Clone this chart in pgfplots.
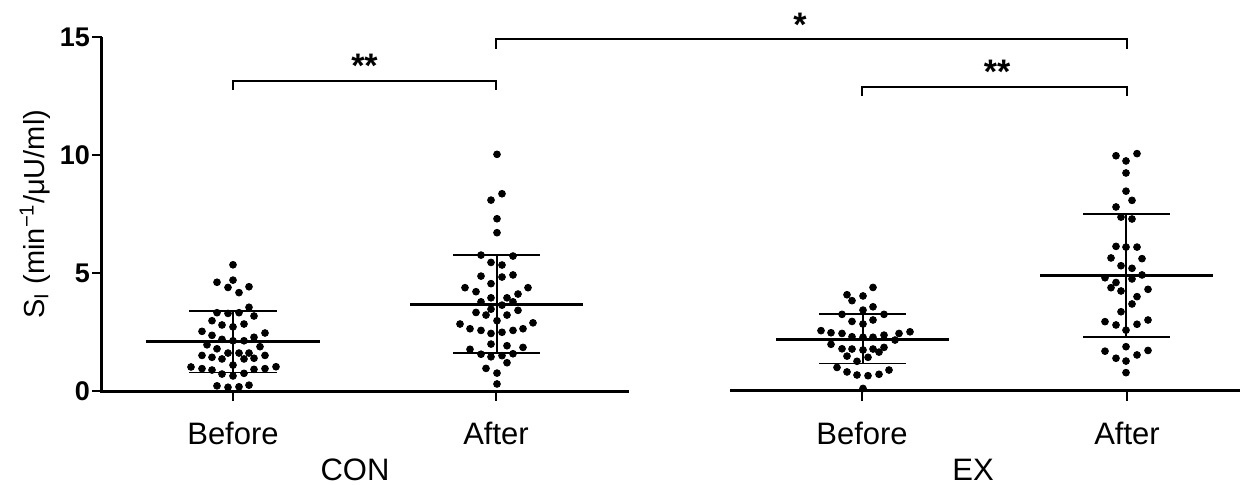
\documentclass[border=0pt]{standalone}
\usepackage{pgfplots}
\usepackage{pgfplotstable}
\pgfplotsset{compat=1.18}
\usepackage{fontspec}
\setmainfont{Liberation Sans}

% x positions are in "image pixels / 100"
\pgfplotstableread{
x y
2.33 5.35
2.17 4.61
2.33 4.70
2.28 4.39
2.49 4.42
2.39 4.17
2.49 3.55
2.17 3.32
2.28 3.29
2.39 3.32
2.54 3.18
2.12 2.98
2.22 2.80
2.33 2.72
2.44 2.84
2.02 2.53
2.12 2.36
2.65 2.46
2.22 2.19
2.33 2.13
2.44 2.13
2.54 2.28
2.07 1.96
2.17 1.79
2.28 1.61
2.39 1.61
2.49 1.61
2.60 1.88
2.02 1.51
2.12 1.43
2.22 1.36
2.44 1.36
2.54 1.39
2.65 1.51
2.33 1.10
1.91 1.02
2.02 0.95
2.12 0.89
2.54 0.92
2.65 0.95
2.76 1.03
2.22 0.72
2.33 0.64
2.44 0.75
2.17 0.22
2.28 0.16
2.39 0.18
2.49 0.25
}\conbefore

\pgfplotstableread{
x y
4.97 10.03
5.02 8.36
4.91 8.09
4.97 7.30
4.97 6.71
4.81 5.76
5.13 5.72
4.91 5.45
5.02 5.34
4.81 4.87
5.02 4.83
5.13 4.92
4.91 4.55
4.65 4.38
4.76 4.21
5.28 4.38
5.18 4.11
4.91 3.95
5.07 3.95
4.81 3.78
5.13 3.78
5.02 3.64
4.91 3.47
4.76 3.33
4.86 3.22
5.18 3.42
5.07 3.22
4.97 2.98
4.60 2.84
5.33 2.89
4.70 2.64
4.81 2.57
4.91 2.44
5.02 2.49
5.13 2.57
5.23 2.64
4.91 1.99
5.07 1.92
5.23 1.85
4.70 1.77
4.81 1.56
4.91 1.45
5.02 1.50
5.13 1.58
5.07 1.20
4.86 0.96
4.97 0.76
4.97 0.30
}\conafter

\pgfplotstableread{
x y
8.73 4.39
8.47 4.08
8.63 4.03
8.52 3.83
8.73 3.57
8.63 3.43
8.42 3.25
8.84 3.25
8.52 2.95
8.73 3.01
8.63 2.84
8.21 2.56
8.31 2.47
8.42 2.44
8.52 2.30
8.63 2.28
8.73 2.28
8.84 2.37
8.99 2.44
9.10 2.51
8.95 2.16
8.31 1.98
8.42 1.79
8.52 1.78
8.63 1.74
8.73 1.78
8.84 1.85
8.79 1.65
8.47 1.48
8.68 1.43
8.57 1.26
8.37 1.00
8.47 0.81
8.57 0.68
8.68 0.65
8.79 0.71
8.89 0.89
8.63 0.11
}\exbefore

\pgfplotstableread{
x y
11.16 9.97
11.37 10.06
11.26 9.75
11.26 9.24
11.26 8.47
11.32 8.08
11.16 7.80
11.21 7.37
11.32 7.29
11.16 6.13
11.26 6.10
11.37 6.10
11.11 5.64
11.42 5.61
11.21 5.31
11.32 5.20
11.05 4.80
11.16 4.60
11.32 4.75
11.42 4.92
11.11 4.38
11.21 4.24
11.48 4.31
11.37 4.00
11.32 3.69
11.21 3.36
11.05 2.94
11.16 2.80
11.37 2.83
11.48 3.01
11.26 2.58
11.26 1.88
11.05 1.69
11.48 1.72
11.37 1.53
11.16 1.39
11.26 1.27
11.26 0.78
}\exafter

\begin{document}
\begin{tikzpicture}
\begin{axis}[
  scale only axis, width=569pt, height=177pt,
  xmin=1.02, xmax=12.40, ymin=0, ymax=15,
  clip=false,
  axis lines=left, axis line style={-},
  x axis line style={draw=none},
  y axis line style={line width=1.5pt},
  tick align=outside, major tick length=5pt,
  tick style={black, line width=0.9pt},
  ytick={0,5,10,15},
  xtick={2.33,4.96,8.62,11.27},
  xticklabels={Before,After,Before,After},
  /pgf/number format/assume math mode=true,
  yticklabel style={font=\bfseries\fontsize{13.5}{16}\selectfont, xshift=2.5pt},
  xticklabel style={font=\fontsize{15.5}{18}\selectfont, yshift=-7pt},
  ylabel={S\textsubscript{I} (min\textsuperscript{−1}/μU/ml)},
  ylabel style={font=\fontsize{14.5}{17}\selectfont, at={(axis description cs:-0.059,0.5)}, anchor=center},
]
\addplot[only marks, mark=*, mark size=1.7pt, black] table {\conbefore};
\addplot[only marks, mark=*, mark size=1.7pt, black] table {\conafter};
\addplot[only marks, mark=*, mark size=1.7pt, black] table {\exbefore};
\addplot[only marks, mark=*, mark size=1.7pt, black] table {\exafter};

% means
\addplot[black, line width=1.5pt] coordinates {(1.46,2.12) (3.20,2.12)};
\addplot[black, line width=1.5pt] coordinates {(4.10,3.67) (5.83,3.67)};
\addplot[black, line width=1.5pt] coordinates {(7.76,2.19) (9.49,2.19)};
\addplot[black, line width=1.5pt] coordinates {(10.40,4.90) (12.13,4.90)};
% SD bars
\addplot[black, line width=0.85pt] coordinates {(1.89,3.40) (2.77,3.40)};
\addplot[black, line width=0.85pt] coordinates {(1.89,0.78) (2.77,0.78)};
\addplot[black, line width=0.85pt] coordinates {(2.33,0.78) (2.33,3.40)};
\addplot[black, line width=0.85pt] coordinates {(4.53,5.75) (5.40,5.75)};
\addplot[black, line width=0.85pt] coordinates {(4.53,1.61) (5.40,1.61)};
\addplot[black, line width=0.85pt] coordinates {(4.97,1.61) (4.97,5.75)};
\addplot[black, line width=0.85pt] coordinates {(8.19,3.26) (9.06,3.26)};
\addplot[black, line width=0.85pt] coordinates {(8.19,1.17) (9.06,1.17)};
\addplot[black, line width=0.85pt] coordinates {(8.63,1.17) (8.63,3.26)};
\addplot[black, line width=0.85pt] coordinates {(10.83,7.49) (11.70,7.49)};
\addplot[black, line width=0.85pt] coordinates {(10.83,2.28) (11.70,2.28)};
\addplot[black, line width=0.85pt] coordinates {(11.26,2.28) (11.26,7.49)};

% broken x axis
\draw[line width=1.5pt] (axis cs:1.00,0) -- (axis cs:6.29,0);
\draw[line width=1.5pt] (axis cs:7.30,0.04) -- (axis cs:12.40,0.04);

% significance brackets
\draw[line width=0.9pt] (axis cs:2.33,12.77) |- (axis cs:4.96,13.15) -- (axis cs:4.96,12.77);
\draw[line width=0.9pt] (axis cs:4.96,14.49) |- (axis cs:11.27,14.92) -- (axis cs:11.27,14.49);
\draw[line width=0.9pt] (axis cs:8.62,12.50) |- (axis cs:11.27,12.88) -- (axis cs:11.27,12.50);
\node[anchor=base, inner sep=0, font=\bfseries\fontsize{17}{20}\selectfont] at (axis cs:3.645,13.30) {**};
\node[anchor=base, inner sep=0, font=\bfseries\fontsize{17}{20}\selectfont] at (axis cs:8.00,15.02) {*};
\node[anchor=base, inner sep=0, font=\bfseries\fontsize{17}{20}\selectfont] at (axis cs:9.97,13.03) {**};

% group labels
\node[font=\fontsize{15.5}{18}\selectfont] at (axis cs:3.55,-3.35) {CON};
\node[font=\fontsize{15.5}{18}\selectfont] at (axis cs:9.73,-3.35) {EX};

\coordinate (bl) at (axis cs:0,-3.98);
\coordinate (tr) at (axis cs:12.40,16.57);
\end{axis}
\pgfresetboundingbox
\path[use as bounding box] (bl) rectangle (tr);
\end{tikzpicture}
\end{document}
